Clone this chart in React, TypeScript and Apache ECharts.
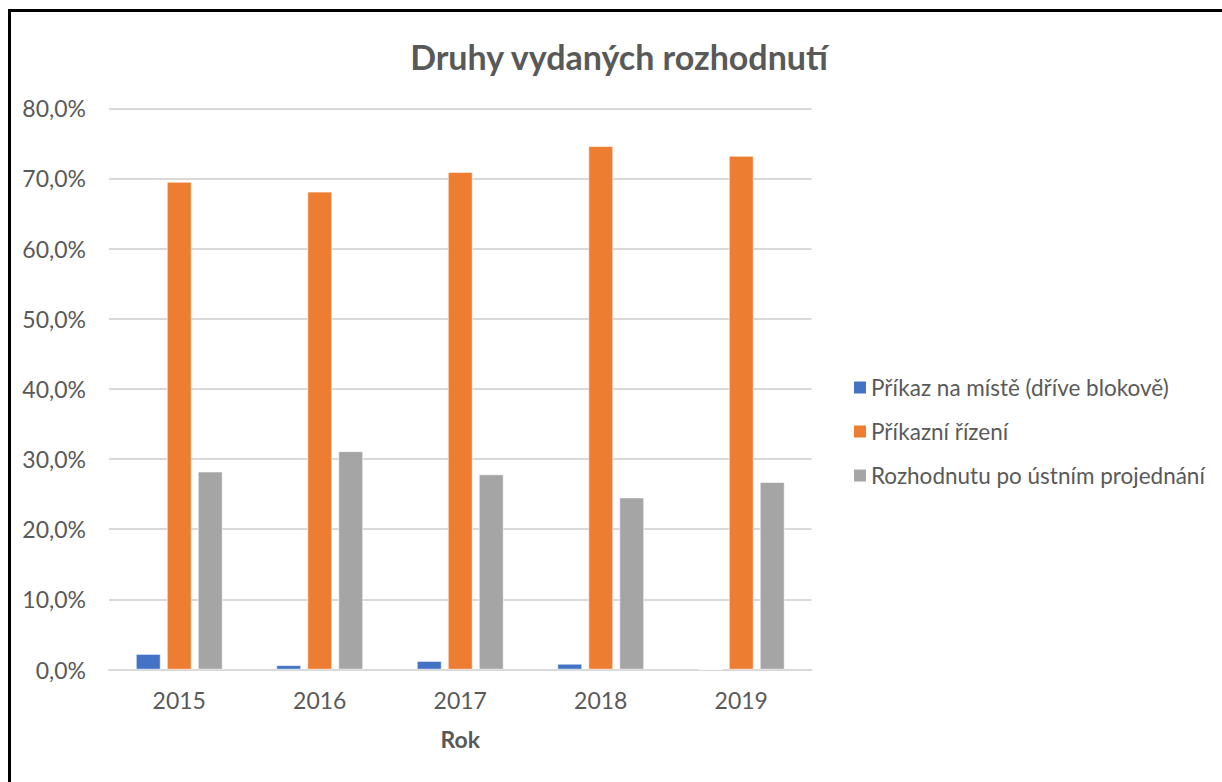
import React, { useEffect, useRef } from "react";
import * as echarts from "echarts";

const years = ["2015", "2016", "2017", "2018", "2019"];
const prikazNaMiste = [2.2, 0.6, 1.2, 0.8, 0];
const prikazniRizeni = [69.5, 68.1, 70.9, 74.6, 73.2];
const poUstnimJednani = [28.2, 31.1, 27.8, 24.5, 26.7];
const seriesNames = [
  "Příkaz na místě (dříve blokově)",
  "Příkazní řízení",
  "Rozhodnutu po ústním projednání",
];
const colors = ["#4472C4", "#ED7D31", "#A5A5A5"];

const FONT = "Lato";
const TEXT = "#595959";

export default function App() {
  const ref = useRef<HTMLDivElement>(null);
  useEffect(() => {
    if (!ref.current) return;
    const chart = echarts.init(ref.current, null, { renderer: "svg" });
    const dataSets = [prikazNaMiste, prikazniRizeni, poUstnimJednani];
    chart.setOption({
      animation: false,
      backgroundColor: "#ffffff",
      textStyle: { fontFamily: FONT, color: TEXT },
      title: {
        text: "Druhy vydaných rozhodnutí",
        left: 614,
        textAlign: "center",
        top: 34,
        textStyle: { fontFamily: FONT, fontSize: 34, fontWeight: "bold", color: TEXT },
      },
      graphic: [
        {
          type: "rect",
          shape: { x: 9.5, y: 10.5, width: 1400, height: 1000 },
          style: { fill: "none", stroke: "#000000", lineWidth: 3 },
          silent: true,
        },
      ],
      legend: {
        orient: "vertical",
        left: 852,
        top: 376,
        padding: 0,
        itemWidth: 14,
        itemHeight: 14,
        itemGap: 21,
        icon: "rect",
        textStyle: { fontFamily: FONT, fontSize: 22.5, color: TEXT, padding: [0, 0, 0, -1] },
        data: seriesNames,
      },
      grid: { left: 109, right: 410.5, top: 108.3, bottom: 112.5, containLabel: false },
      xAxis: {
        type: "category",
        data: years,
        name: "Rok",
        nameLocation: "middle",
        nameGap: 58,
        nameTextStyle: { fontFamily: FONT, fontSize: 23, fontWeight: "bold", color: TEXT },
        axisLine: { lineStyle: { color: "#D9D9D9", width: 2 } },
        axisTick: { show: false },
        axisLabel: { fontFamily: FONT, fontSize: 23, color: TEXT, margin: 19 },
      },
      yAxis: {
        type: "value",
        min: 0,
        max: 80,
        interval: 10,
        axisLine: { show: false },
        axisTick: { show: false },
        splitLine: { lineStyle: { color: "#D9D9D9", width: 2 } },
        axisLabel: {
          fontFamily: FONT,
          fontSize: 23,
          color: TEXT,
          margin: 23,
          formatter: (v: number) => v.toFixed(1).replace(".", ",") + "%",
        },
      },
      series: seriesNames.map((name, i) => ({
        name,
        type: "bar",
        data: dataSets[i],
        barWidth: "17.5%",
        barGap: "26%",
        itemStyle: { color: colors[i], borderColor: "#ffffff", borderWidth: 0.6 },
      })),
    });
    return () => chart.dispose();
  }, []);
  return (
    <div
      ref={ref}
      style={{ position: "fixed", left: 0, top: 0, width: 1222, height: 782 }}
    />
  );
}
